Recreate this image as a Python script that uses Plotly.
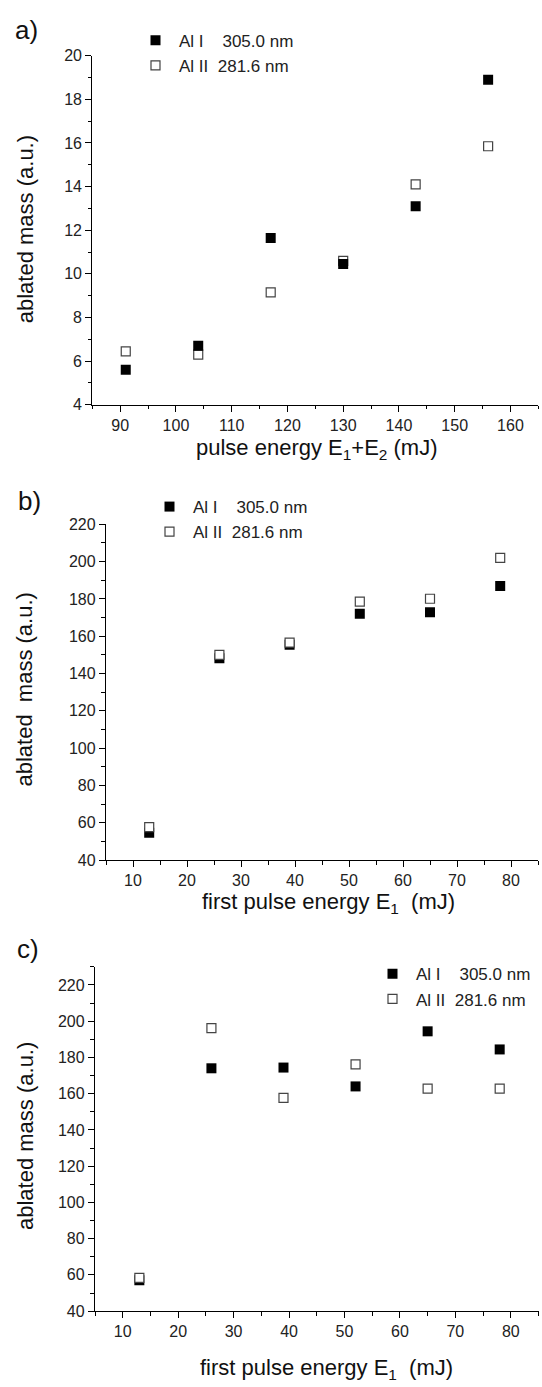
import plotly.graph_objects as go

W, H = 542, 1387

# ---------------- data ----------------
pulse_energy_sum = [91, 104, 117, 130, 143, 156]
a_al1 = [5.6, 6.7, 11.65, 10.45, 13.1, 18.9]
a_al2 = [6.45, 6.3, 9.15, 10.6, 14.1, 15.85]

first_pulse_energy = [13, 26, 39, 52, 65, 78]
b_al1 = [54.7, 148.2, 155.5, 172.0, 172.9, 186.9]
b_al2 = [57.7, 150.0, 156.6, 178.5, 180.1, 202.0]

c_al1 = [57.0, 174.0, 174.4, 164.0, 194.4, 184.4]
c_al2 = [58.3, 196.2, 157.7, 176.2, 162.8, 162.8]

label_al1 = "Al I\u00a0\u00a0\u00a0\u00a0305.0 nm"
label_al2 = "Al II\u00a0\u00a0281.6 nm"

FONT = "Liberation Sans, Arial, Helvetica, sans-serif"


def fx(px):
    return px / W


def fy(py):
    return 1 - py / H


fig = go.Figure()

filled = dict(symbol="square", size=10, color="black", line=dict(width=0))
opened = dict(symbol="square", size=9, color="white", line=dict(color="#444", width=1.2))

# panel a (filled drawn on top)
fig.add_trace(go.Scatter(x=pulse_energy_sum, y=a_al2, mode="markers", marker=opened,
                         name=label_al2, xaxis="x", yaxis="y", legend="legend", legendrank=2))
fig.add_trace(go.Scatter(x=pulse_energy_sum, y=a_al1, mode="markers", marker=filled,
                         name=label_al1, xaxis="x", yaxis="y", legend="legend", legendrank=1))
# panel b (open drawn on top)
fig.add_trace(go.Scatter(x=first_pulse_energy, y=b_al1, mode="markers", marker=filled,
                         name=label_al1, xaxis="x2", yaxis="y2", legend="legend2", legendrank=1))
fig.add_trace(go.Scatter(x=first_pulse_energy, y=b_al2, mode="markers", marker=opened,
                         name=label_al2, xaxis="x2", yaxis="y2", legend="legend2", legendrank=2))
# panel c
fig.add_trace(go.Scatter(x=first_pulse_energy, y=c_al1, mode="markers", marker=filled,
                         name=label_al1, xaxis="x3", yaxis="y3", legend="legend3", legendrank=1))
fig.add_trace(go.Scatter(x=first_pulse_energy, y=c_al2, mode="markers", marker=opened,
                         name=label_al2, xaxis="x3", yaxis="y3", legend="legend3", legendrank=2))

axis_common = dict(showline=True, linecolor="black", linewidth=1.3, mirror=False,
                   ticks="outside", ticklen=6, tickwidth=1.3, tickcolor="black",
                   showgrid=False, zeroline=False,
                   tickfont=dict(family=FONT, size=16, color="#222"))


def minor(d):
    return dict(dtick=d, ticks="outside", ticklen=3.5, tickwidth=1.2, tickcolor="black", showgrid=False)


legend_common = dict(xanchor="left", yanchor="top", bgcolor="rgba(0,0,0,0)", borderwidth=0,
                     font=dict(family=FONT, size=17, color="#222"), tracegroupgap=0,
                     itemsizing="trace", itemwidth=37)

fig.update_layout(
    width=W, height=H, autosize=False,
    margin=dict(l=0, r=0, t=0, b=0),
    paper_bgcolor="white", plot_bgcolor="white",
    xaxis=dict(domain=[fx(92.3), fx(538.3)], range=[85, 165], dtick=10, tick0=0,
               minor=minor(5), anchor="y", **axis_common),
    yaxis=dict(domain=[fy(401.7), fy(48.3)], range=[4, 20], dtick=2, tick0=0,
               minor=minor(1), anchor="x", **axis_common),
    xaxis2=dict(domain=[fx(106), fx(538)], range=[5, 85], dtick=10, tick0=0,
                minor=minor(5), anchor="y2", **axis_common),
    yaxis2=dict(domain=[fy(862.7), fy(522.7)], range=[40, 220], dtick=20, tick0=0,
                minor=minor(10), anchor="x2", **axis_common),
    xaxis3=dict(domain=[fx(95), fx(538.5)], range=[5, 85], dtick=10, tick0=0,
                minor=minor(5), anchor="y3", **axis_common),
    yaxis3=dict(domain=[fy(1319.3), fy(970.7)], range=[40, 230], dtick=20, tick0=0,
                minor=minor(10), anchor="x3", **axis_common),
    legend=dict(x=fx(132), y=fy(15), **legend_common),
    legend2=dict(x=fx(146), y=fy(487), **legend_common),
    legend3=dict(x=fx(369), y=fy(960), **legend_common),
    showlegend=True,
)

title_font = dict(family=FONT, size=22, color="#111")
panel_font = dict(family=FONT, size=26, color="#111")

annotations = [
    dict(text="a)", x=fx(26), y=fy(22), font=panel_font),
    dict(text="b)", x=fx(29), y=fy(499), font=panel_font),
    dict(text="c)", x=fx(28), y=fy(953), font=panel_font),
    dict(text="ablated mass (a.u.)", x=fx(25), y=fy(224), textangle=-90, font=title_font),
    dict(text="ablated\u00a0\u00a0mass (a.u.)", x=fx(25), y=fy(690), textangle=-90, font=title_font),
    dict(text="ablated mass (a.u.)", x=fx(25), y=fy(1142), textangle=-90, font=title_font),
    dict(text="pulse energy E<sub>1</sub>+E<sub>2</sub> (mJ)", x=fx(317), y=fy(446), font=title_font),
    dict(text="first pulse energy E<sub>1</sub>\u00a0 (mJ)", x=fx(328), y=fy(906), font=title_font),
    dict(text="first pulse energy E<sub>1</sub>\u00a0 (mJ)", x=fx(326), y=fy(1378), font=title_font),
]
for a in annotations:
    a.update(xref="paper", yref="paper", showarrow=False, xanchor="center", yanchor="middle")
fig.update_layout(annotations=annotations)

fig.write_html("out.html")
